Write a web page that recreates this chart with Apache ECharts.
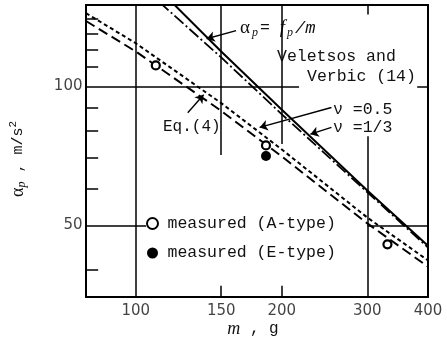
<!DOCTYPE html>
<html>
<head>
<meta charset="utf-8">
<script src="https://cdn.jsdelivr.net/npm/echarts@6/dist/echarts.min.js"></script>
<style>
  html, body { margin: 0; padding: 0; background: #fff; }
  #chart { width: 447px; height: 343px; }
</style>
</head>
<body>
<div id="chart"></div>
<script>
// curves, [m (g), alpha_p (m/s^2)]
const fpOverM = [[118, 153], [150, 119], [200, 89], [300, 59.5], [400, 45.2]]
const vvNu13 = [[112, 152], [150, 115.5], [200, 87], [300, 59], [400, 44.8]]
const vvNu05 = [[79, 144], [100, 124], [150, 92], [200, 73], [300, 52], [400, 42]]
const eq4 = [[79, 138.5], [100, 119], [150, 88.5], [200, 70.5], [300, 50.5], [400, 40.7]]
const measuredA = [[110, 111], [185.5, 74.5], [330, 45.5]]
const measuredE = [[185.5, 70.7]]

const xTicks = [100, 150, 200, 300, 400]
const yTicks = [50, 100]
const yMinor = [40, 60, 70, 80, 90, 110, 120, 130, 140]

const xMin = 79, xMax = 400, yMin = 35, yMax = 150

// grid lines in the scan are broken where the labels sit
const gridPieces = [
  [[100, yMin], [100, yMax]],
  [[150, 71], [150, yMax]],
  [[150, yMin], [150, 37]],
  [[200, 75], [200, yMax]],
  [[200, yMin], [200, 37]],
  [[300, yMin], [300, 78]],
  [[300, 143], [300, yMax]],
  [[xMin, 100], [217, 100]],
  [[380, 100], [xMax, 100]],
  [[xMin, 50], [105, 50]],
  [[300, 50], [xMax, 50]]
]
const yMinorEnd = 83.7

// annotation arrows, tail -> head
const arrows = [
  [[161, 132], [140, 126.8]],
  [[253, 90], [180, 81.5]],
  [[253, 81.5], [229, 78.8]],
  [[128, 87.7], [138, 95.9]]
]

const mono = '"Liberation Mono", monospace'
const ink = '#111'

const chart = echarts.init(document.getElementById('chart'))

const seg = p => [{ coord: p[0] }, { coord: p[1] }]
const gridSegs = gridPieces.map(seg)
  .concat(yMinor.map(v => seg([[xMin, v], [yMinorEnd, v]])))

const option = {
  animation: false,
  grid: {
    left: 80, right: 19, top: 5, bottom: 42,
    show: true, borderColor: '#000', borderWidth: 2
  },
  legend: {
    data: ['measured (A-type)', 'measured (E-type)'],
    orient: 'vertical',
    left: 146,
    top: 215,
    padding: 0,
    itemWidth: 20,
    itemHeight: 11,
    itemGap: 12.5,
    selectedMode: false,
    textStyle: { fontFamily: mono, fontSize: 16.5, color: ink, lineHeight: 17 }
  },
  xAxis: {
    type: 'log',
    min: xMin,
    max: xMax,
    axisLine: { show: false },
    axisTick: { show: false },
    axisLabel: { show: false },
    splitLine: { show: false },
    name: '{i|m}{b| , g}',
    nameLocation: 'middle',
    nameGap: 23,
    nameTextStyle: {
      padding: [0, 8, 0, 0],
      rich: {
        i: { fontFamily: 'Liberation Serif', fontStyle: 'italic', fontSize: 18, color: ink },
        b: { fontFamily: mono, fontSize: 16, color: ink }
      }
    }
  },
  yAxis: {
    type: 'log',
    min: yMin,
    max: yMax,
    axisLine: { show: false },
    axisTick: { show: false },
    axisLabel: { show: false },
    splitLine: { show: false },
    name: '{a|α}{s|p}{b| , m/s}{u|2}',
    nameLocation: 'middle',
    nameGap: 58,
    nameTextStyle: {
      padding: [0, 16, 0, 0],
      rich: {
        a: { fontFamily: 'Liberation Serif', fontSize: 18, color: ink, lineHeight: 20 },
        s: { fontFamily: 'Liberation Serif', fontStyle: 'italic', fontSize: 12, color: ink, verticalAlign: 'bottom', lineHeight: 12 },
        b: { fontFamily: mono, fontSize: 15, color: ink, lineHeight: 20 },
        u: { fontFamily: mono, fontSize: 11, color: ink, verticalAlign: 'top', lineHeight: 11 }
      }
    }
  },
  series: [
    {
      name: 'fp/m',
      type: 'line',
      data: fpOverM,
      showSymbol: false,
      silent: true,
      lineStyle: { color: '#000', width: 2 },
      markLine: {
        silent: true,
        symbol: ['none', 'none'],
        label: { show: false },
        lineStyle: { color: '#000', width: 1.5, type: 'solid' },
        data: gridSegs
      }
    },
    {
      name: 'nu=1/3',
      type: 'line',
      data: vvNu13,
      showSymbol: false,
      silent: true,
      lineStyle: { color: '#000', width: 1.8, type: [12, 3, 2, 3] },
      markLine: {
        silent: true,
        symbol: ['none', 'arrow'],
        symbolSize: 8,
        label: { show: false },
        lineStyle: { color: '#000', width: 1.4, type: 'solid' },
        data: arrows.map(seg)
      }
    },
    {
      name: 'nu=0.5',
      type: 'line',
      data: vvNu05,
      showSymbol: false,
      silent: true,
      lineStyle: { color: '#000', width: 2, type: [4, 3] }
    },
    {
      name: 'Eq.(4)',
      type: 'line',
      data: eq4,
      showSymbol: false,
      silent: true,
      lineStyle: { color: '#000', width: 2, type: [10, 5] }
    },
    {
      name: 'measured (A-type)',
      type: 'scatter',
      data: measuredA,
      symbol: 'circle',
      symbolSize: 8,
      z: 5,
      itemStyle: { color: '#fff', borderColor: '#000', borderWidth: 2.2, opacity: 1 }
    },
    {
      name: 'measured (E-type)',
      type: 'scatter',
      data: measuredE,
      symbol: 'circle',
      symbolSize: 10,
      z: 5,
      itemStyle: { color: '#000', opacity: 1 }
    },
    {
      name: 'xticks',
      type: 'scatter',
      silent: true,
      clip: false,
      symbolSize: 1,
      itemStyle: { color: 'rgba(0,0,0,0)' },
      data: xTicks.map(v => [v, yMin]),
      label: {
        show: true, position: 'bottom', distance: 6,
        formatter: p => String(p.value[0]),
        fontFamily: 'DejaVu Sans', fontSize: 15, color: ink
      }
    },
    {
      name: 'yticks',
      type: 'scatter',
      silent: true,
      clip: false,
      symbolSize: 1,
      itemStyle: { color: 'rgba(0,0,0,0)' },
      data: yTicks.map(v => [xMin, v]),
      label: {
        show: true, position: 'left', distance: 3,
        formatter: p => String(p.value[1]),
        fontFamily: 'DejaVu Sans', fontSize: 15, color: ink
      }
    }
  ],
  graphic: [
    {
      type: 'text', x: 240, y: 28,
      style: {
        text: '{a|α}{s|p}{e|= }{f|f}{s|p}{g|/m}',
        textVerticalAlign: 'middle',
        rich: {
          a: { fontFamily: 'Liberation Serif', fontSize: 19, fill: ink, lineHeight: 22 },
          s: { fontFamily: 'Liberation Serif', fontStyle: 'italic', fontSize: 12, fill: ink, verticalAlign: 'bottom', lineHeight: 14, padding: [0, 2, 0, 2] },
          e: { fontFamily: mono, fontSize: 16.5, fill: ink, lineHeight: 22 },
          f: { fontFamily: 'Liberation Serif', fontStyle: 'italic', fontSize: 19, fill: ink, lineHeight: 22 },
          g: { fontFamily: mono, fontStyle: 'italic', fontSize: 17, fill: ink, lineHeight: 22 }
        }
      }
    },
    { type: 'text', x: 277, y: 57, style: { text: 'Veletsos and', font: '16.5px ' + mono, fill: ink, textVerticalAlign: 'middle' } },
    { type: 'text', x: 307, y: 77, style: { text: 'Verbic (14)', font: '16.5px ' + mono, fill: ink, textVerticalAlign: 'middle' } },
    { type: 'text', x: 333, y: 110, style: { text: 'ν =0.5', font: '16.5px ' + mono, fill: ink, textVerticalAlign: 'middle' } },
    { type: 'text', x: 333, y: 128, style: { text: 'ν =1/3', font: '16.5px ' + mono, fill: ink, textVerticalAlign: 'middle' } },
    { type: 'text', x: 163, y: 127, style: { text: 'Eq.(4)', font: '16px ' + mono, fill: ink, textVerticalAlign: 'middle' } }
  ]
}

chart.setOption(option)
</script>
</body>
</html>
